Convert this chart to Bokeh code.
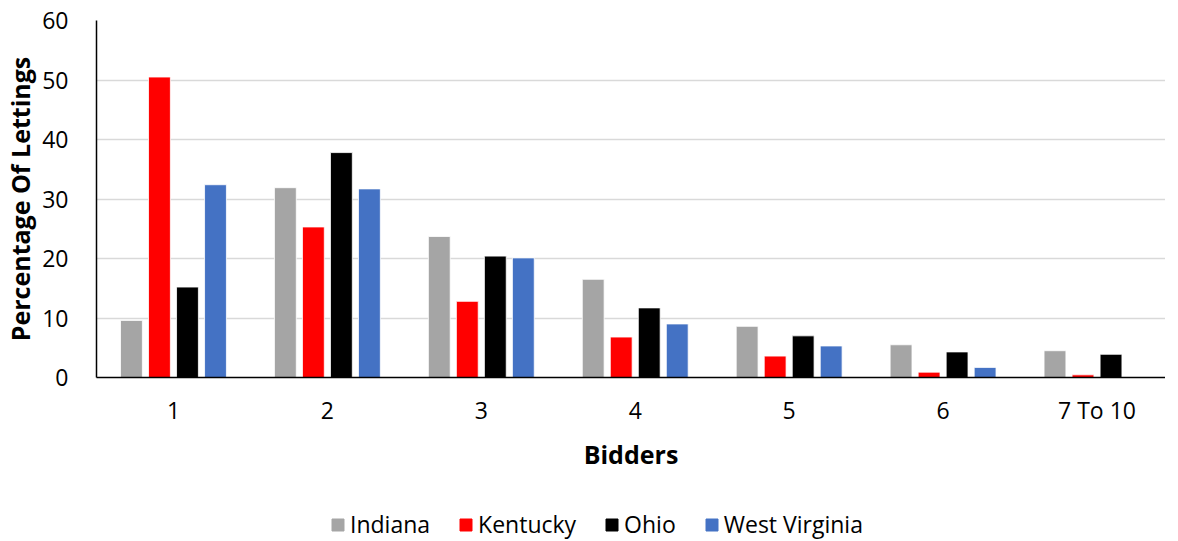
from bokeh.plotting import figure
from bokeh.models import Range1d, ColumnDataSource, Legend, LegendItem, FixedTicker
from bokeh.layouts import column
from bokeh.transform import dodge
from bokeh.embed import file_html
from bokeh.resources import INLINE

bidders = ["1", "2", "3", "4", "5", "6", "7 To 10"]
indiana = [9.6, 31.9, 23.7, 16.5, 8.6, 5.5, 4.5]
kentucky = [50.5, 25.3, 12.8, 6.8, 3.6, 0.9, 0.45]
ohio = [15.2, 37.8, 20.4, 11.7, 7.0, 4.3, 3.9]
west_virginia = [32.4, 31.7, 20.1, 9.0, 5.3, 1.7, 0.0]

series = ["Indiana", "Kentucky", "Ohio", "West Virginia"]
colors = ["#A5A5A5", "#FF0000", "#000000", "#4472C4"]

# category index positions (group centres)
pos = [i + 0.5 for i in range(len(bidders))]

src = ColumnDataSource(dict(x=pos, Indiana=indiana, Kentucky=kentucky,
                            Ohio=ohio, WV=west_virginia))

FONT = "Open Sans"

p = figure(x_range=Range1d(0, 6.945), y_range=Range1d(0, 60),
           width=1165, height=502, output_backend="svg", toolbar_location=None,
           min_border_left=85, min_border_top=20, min_border_right=0,
           min_border_bottom=125)

offsets = [-0.273, -0.091, 0.091, 0.273]
cols = ["Indiana", "Kentucky", "Ohio", "WV"]
for name, col, c, off in zip(series, cols, colors, offsets):
    p.vbar(x=dodge("x", off), top=col, width=0.142,
           source=src, fill_color=c, line_color="white", line_width=0.8)

p.ygrid.grid_line_color = "#D9D9D9"
p.ygrid.grid_line_width = 1.5
p.xgrid.grid_line_color = None
p.outline_line_color = None

p.yaxis.ticker = [0, 10, 20, 30, 40, 50, 60]
p.yaxis.axis_line_color = "#000000"
p.yaxis.axis_line_width = 1.5
p.yaxis.major_tick_line_color = None
p.yaxis.minor_tick_line_color = None
p.yaxis.major_label_text_font = FONT
p.yaxis.major_label_text_font_size = "23px"
p.yaxis.major_label_text_color = "#000000"
p.yaxis.major_label_standoff = 22
p.yaxis.axis_label = "Percentage Of Lettings"
p.yaxis.axis_label_text_font = FONT
p.yaxis.axis_label_text_font_style = "bold"
p.yaxis.axis_label_text_font_size = "25px"
p.yaxis.axis_label_text_color = "#000000"
p.yaxis.axis_label_standoff = 2

p.xaxis.ticker = FixedTicker(ticks=pos)
p.xaxis.major_label_overrides = {x: lab for x, lab in zip(pos, bidders)}
p.xaxis.axis_line_color = "#000000"
p.xaxis.axis_line_width = 1.5
p.xaxis.major_tick_line_color = None
p.xaxis.minor_tick_line_color = None
p.xaxis.major_label_text_font = FONT
p.xaxis.major_label_text_font_size = "23px"
p.xaxis.major_label_text_color = "#000000"
p.xaxis.major_label_standoff = 10
p.xaxis.axis_label = "Bidders"
p.xaxis.axis_label_text_font = FONT
p.xaxis.axis_label_text_font_style = "bold"
p.xaxis.axis_label_text_font_size = "25px"
p.xaxis.axis_label_text_color = "#000000"
p.xaxis.axis_label_standoff = 8

# legend strip below the chart (hidden proxy renderers share the data source)
lg = figure(width=1165, height=38, output_backend="svg", toolbar_location=None,
            x_range=Range1d(0, 1), y_range=Range1d(0, 1),
            min_border=0, outline_line_color=None)
lg.axis.visible = False
lg.grid.visible = False
items = []
for name, col, c in zip(series, cols, colors):
    r = lg.vbar(x=0.5, top=col, width=0.1, source=src,
                fill_color=c, line_color=c, visible=False)
    items.append(LegendItem(label=name, renderers=[r]))
legend = Legend(items=items, orientation="horizontal", location=(234, 0),
                label_text_font=FONT, label_text_font_size="23px",
                label_text_color="#000000", glyph_width=15, glyph_height=15,
                label_standoff=5, spacing=28, border_line_color=None,
                background_fill_alpha=0, margin=0, padding=0,
                inactive_fill_alpha=0)
lg.add_layout(legend, "center")

layout = column(p, lg, spacing=0)
open("out.html", "w").write(file_html(layout, INLINE))
